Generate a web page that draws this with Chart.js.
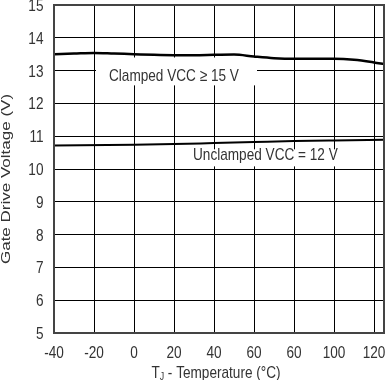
<!DOCTYPE html>
<html><head><meta charset="utf-8">
<script src="https://cdn.jsdelivr.net/npm/chart.js@4"></script>
<style>html,body{margin:0;padding:0;background:#fff}#wrap{width:385px;height:380px;position:relative}</style>
</head><body><div id="wrap"><canvas id="c"></canvas></div>
<script>
const temps = [-40, -30, -20, -10, 0, 10, 20, 30, 40, 50, 60, 70, 80, 90, 100, 110, 120, 125];
const clampedVals = [13.50, 13.52, 13.54, 13.52, 13.50, 13.48, 13.47, 13.47, 13.48, 13.49, 13.43, 13.38, 13.36, 13.36, 13.36, 13.33, 13.25, 13.20];
const unclampedTemps = [-40, 0, 20, 40, 60, 80, 100, 125];
const unclampedVals = [10.72, 10.74, 10.76, 10.79, 10.82, 10.85, 10.87, 10.89];
const xTickValues = [-40, -20, 0, 20, 40, 60, 80, 100, 120];
const xTickLabels = ['-40', '-20', '0', '20', '40', '60', '60', '100', '120'];
const yTickValues = [5, 6, 7, 8, 9, 10, 11, 12, 13, 14, 15];
const yTickLabels = ['5', '6', '7', '8', '9', '10', '11', '12', '13', '14', '15'];
const clampedLabel = 'Clamped VCC \u2265 15 V';
const unclampedLabel = 'Unclamped VCC = 12 V';
const yTitle = 'Gate Drive Voltage (V)';
const xTitleParts = ['T', 'J', ' - Temperature (\u00b0C)'];

const FONT = '"Liberation Sans", Arial, sans-serif';
const TXT = '#333';
const SX = 0.8;      // horizontal squeeze of the lettering
const FS = 17;       // font size

function txt(ctx, s, x, y, align, size) {
  ctx.save();
  ctx.translate(x, y);
  ctx.scale(SX, 1);
  ctx.font = (size || FS) + 'px ' + FONT;
  ctx.textAlign = align || 'left';
  ctx.textBaseline = 'alphabetic';
  ctx.fillStyle = TXT;
  ctx.fillText(s, 0, 0);
  ctx.restore();
}
function tw(ctx, s, size) {
  ctx.save();
  ctx.font = (size || FS) + 'px ' + FONT;
  const w = ctx.measureText(s).width * SX;
  ctx.restore();
  return w;
}

const overlay = {
  id: 'overlay',
  beforeDatasetsDraw(chart) {
    const {ctx} = chart;
    const x = chart.scales.x, y = chart.scales.y;
    ctx.save();
    ctx.fillStyle = '#fff';
    ctx.fillRect(x.getPixelForValue(-19), y.getPixelForValue(13.4), x.getPixelForValue(61.5) - x.getPixelForValue(-19), y.getPixelForValue(12.55) - y.getPixelForValue(13.4));
    ctx.fillRect(x.getPixelForValue(24), y.getPixelForValue(10.6), x.getPixelForValue(118) - x.getPixelForValue(24), y.getPixelForValue(10.08) - y.getPixelForValue(10.6));
    ctx.restore();
    txt(ctx, clampedLabel, x.getPixelForValue(-12.5), y.getPixelForValue(12.68), 'left');
    txt(ctx, unclampedLabel, x.getPixelForValue(29.5), y.getPixelForValue(10.26), 'left');
  },
  afterDraw(chart) {
    const {ctx, chartArea: a} = chart;
    const x = chart.scales.x, y = chart.scales.y;
    ctx.save();
    ctx.strokeStyle = '#444';
    ctx.lineWidth = 2;
    ctx.strokeRect(a.left, a.top, a.right - a.left, a.bottom - a.top);
    ctx.restore();
    yTickValues.forEach((v, i) => txt(ctx, yTickLabels[i], a.left - 10.5, y.getPixelForValue(v) + 6, 'right'));
    xTickValues.forEach((v, i) => txt(ctx, xTickLabels[i], x.getPixelForValue(v), a.bottom + 25, 'center'));
    ctx.save();
    ctx.translate(10, 179);
    ctx.scale(SX, 1);
    ctx.rotate(-Math.PI / 2);
    ctx.font = FS + 'px ' + FONT;
    ctx.fillStyle = TXT;
    ctx.textAlign = 'center';
    ctx.textBaseline = 'alphabetic';
    ctx.fillText(yTitle, 0, 0);
    ctx.restore();
    const small = 11;
    const w1 = tw(ctx, xTitleParts[0]), w2 = tw(ctx, xTitleParts[1], small), w3 = tw(ctx, xTitleParts[2]);
    let sx = 216 - (w1 + w2 + w3) / 2;
    const by = 378;
    txt(ctx, xTitleParts[0], sx, by, 'left'); sx += w1;
    txt(ctx, xTitleParts[1], sx, by + 2, 'left', small); sx += w2;
    txt(ctx, xTitleParts[2], sx, by, 'left');
  }
};

new Chart(document.getElementById('c'), {
  type: 'line',
  data: {
    datasets: [
      {data: temps.map((t, i) => ({x: t, y: clampedVals[i]})), borderColor: '#000', borderWidth: 2.5, pointRadius: 0, tension: 0.4, cubicInterpolationMode: 'monotone', fill: false},
      {data: unclampedTemps.map((t, i) => ({x: t, y: unclampedVals[i]})), borderColor: '#000', borderWidth: 2, pointRadius: 0, tension: 0.4, cubicInterpolationMode: 'monotone', fill: false}
    ]
  },
  options: {
    responsive: true, maintainAspectRatio: false, animation: false,
    layout: {padding: {top: 5, right: 1, bottom: 0, left: 0}},
    plugins: {legend: {display: false}, tooltip: {enabled: false}},
    scales: {
      x: {
        type: 'linear', min: -40, max: 125,
        afterBuildTicks: s => { s.ticks = xTickValues.map(v => ({value: v})); },
        afterFit: s => { s.height = 47; s.paddingLeft = 0; s.paddingRight = 0; },
        ticks: {display: false},
        grid: {color: '#000', lineWidth: 1, drawTicks: false},
        border: {display: false}
      },
      y: {
        type: 'linear', min: 5, max: 15,
        afterBuildTicks: s => { s.ticks = yTickValues.map(v => ({value: v})); },
        afterFit: s => { s.width = 54; s.paddingTop = 0; s.paddingBottom = 0; },
        ticks: {display: false},
        grid: {color: '#000', lineWidth: 1, drawTicks: false},
        border: {display: false}
      }
    }
  },
  plugins: [overlay]
});
</script></body></html>
